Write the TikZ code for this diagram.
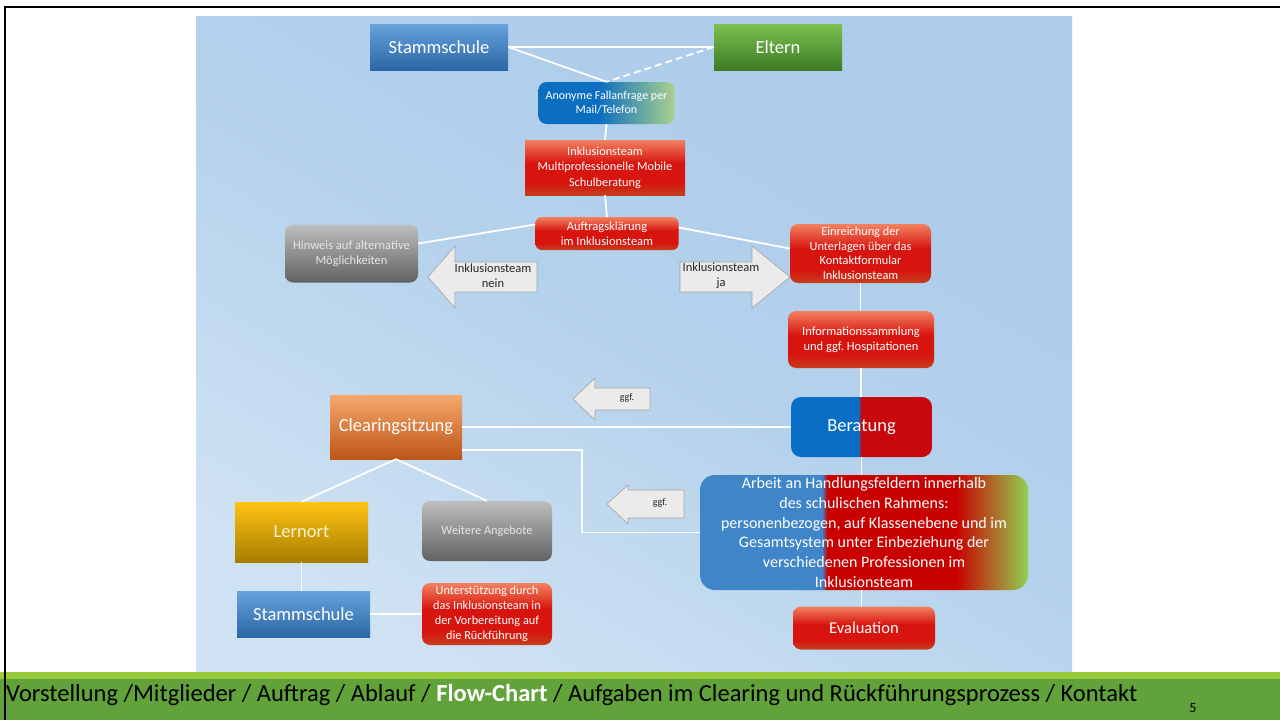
\documentclass[tikz,border=0pt]{standalone}
\usepackage{fontspec}
\setmainfont{Carlito}
\definecolor{bgA}{HTML}{ACCCEA}
\definecolor{bgB}{HTML}{CFE2F3}
\definecolor{stTop}{HTML}{66A3DB}
\definecolor{stBot}{HTML}{2B66A6}
\definecolor{elTop}{HTML}{7DBF4F}
\definecolor{elBot}{HTML}{3D7C24}
\definecolor{rdTop}{HTML}{F2825F}
\definecolor{rdRed}{HTML}{D8140F}
\definecolor{rdBot}{HTML}{C4401C}
\definecolor{gyTop}{HTML}{BEBEBE}
\definecolor{gyMid}{HTML}{979797}
\definecolor{gyBot}{HTML}{616161}
\definecolor{gyTxt}{HTML}{E6E6E6}
\definecolor{clTop}{HTML}{F5A86C}
\definecolor{clBot}{HTML}{BE5518}
\definecolor{lnTop}{HTML}{FFC312}
\definecolor{lnMid}{HTML}{E3A800}
\definecolor{lnBot}{HTML}{A67E00}
\definecolor{lnTxt}{HTML}{FFF3CF}
\definecolor{anBlue}{HTML}{0C6EC1}
\definecolor{anGreen}{HTML}{A9D18E}
\definecolor{beBlue}{HTML}{0A6FC4}
\definecolor{beRed}{HTML}{C8080C}
\definecolor{arBlue}{HTML}{3F85C8}
\definecolor{arRed}{HTML}{C80000}
\definecolor{arGreen}{HTML}{92D050}
\definecolor{arrFill}{HTML}{EBEBEB}
\definecolor{arrLine}{HTML}{A3A3A3}
\definecolor{arrTxt}{HTML}{262626}
\definecolor{ftLight}{HTML}{9ACB3A}
\definecolor{ftDark}{HTML}{62A23A}
\pgfdeclarehorizontalshading{anshade}{100bp}{color(0bp)=(anBlue); color(47bp)=(anBlue); color(75bp)=(anGreen); color(100bp)=(anGreen)}
\pgfdeclarehorizontalshading{beshade}{100bp}{color(0bp)=(beBlue); color(49bp)=(beBlue); color(49.8bp)=(beRed); color(100bp)=(beRed)}
\pgfdeclarehorizontalshading{arshade}{100bp}{color(0bp)=(arBlue); color(43.6bp)=(arBlue); color(44.4bp)=(arRed); color(64bp)=(arRed); color(75bp)=(arGreen); color(100bp)=(arGreen)}
\pgfdeclareverticalshading{rdshade}{100bp}{color(0bp)=(rdBot); color(25bp)=(rdBot); color(36bp)=(rdRed); color(54bp)=(rdRed); color(75bp)=(rdTop); color(100bp)=(rdTop)}
\begin{document}
\begin{tikzpicture}[x=1pt,y=-1pt,
  bx/.style={draw=none, inner sep=1pt, align=center, text=white},
  small/.style={font=\fontsize{12.5}{14.8}\selectfont},
  big/.style={font=\fontsize{18.5}{22}\selectfont},
  blueb/.style={bx, big, top color=stTop, bottom color=stBot},
  greenb/.style={bx, big, top color=elTop, bottom color=elBot},
  redb/.style={bx, small, shading=rdshade},
  grayb/.style={bx, small, rounded corners=8pt, text=gyTxt, top color=gyTop, middle color=gyMid, bottom color=gyBot},
  conn/.style={draw=white, line width=1.8pt},
  arrowbox/.style={fill=arrFill, draw=arrLine, line width=0.6pt, line join=miter},
  arrtext/.style={align=center, text=arrTxt, font=\fontsize{12.5}{15}\selectfont}
]
\useasboundingbox (0,0) rectangle (1280,720);
\fill[white] (0,0) rectangle (1280,720);
% panel
\shade[top color=bgA, bottom color=bgB, middle color=bgA!75!bgB, shading angle=-30] (196,16) rectangle (1072,672);
% footer
\fill[ftLight] (0,672) rectangle (1280,679);
\fill[ftDark] (0,679) rectangle (1280,720);
\draw[black, line width=2pt] (4,7) -- (1280,7);
\draw[black, line width=2pt] (5,6) -- (5,720);
\node[anchor=base west, font=\fontsize{24.5}{28}\selectfont, text=black, inner sep=0pt] (foot) at (6,701)
  {Vorstellung /Mitglieder / Auftrag / Ablauf / \textbf{\textcolor{white}{Flow-Chart}} / Aufgaben im Clearing und Rückführungsprozess / Kontakt};
\node[anchor=base, font=\fontsize{14}{16}\selectfont, text=black, inner sep=0pt] (pnum) at (1193,712) {5};

% nodes
\node[blueb, minimum width=138pt, minimum height=46pt] (stamm) at (439,47) {Stammschule};
\node[greenb, minimum width=128pt, minimum height=46pt] (eltern) at (778,47) {Eltern};
\node[bx, small, rounded corners=8pt, shading=anshade, minimum width=136pt, minimum height=42pt,
      font=\fontsize{12}{14}\selectfont] (anon) at (606.5,103) {Anonyme Fallanfrage per\\Mail/Telefon};
\node[redb, minimum width=160pt, minimum height=55pt, font=\fontsize{12.3}{15.5}\selectfont] (inkl) at (605,167.5) {Inklusionsteam\\Multiprofessionelle Mobile\\Schulberatung};
\node[redb, rounded corners=6pt, minimum width=143pt, minimum height=33pt] (auftrag) at (607,233.5) {Auftragsklärung\\im Inklusionsteam};
\node[grayb, minimum width=133pt, minimum height=58pt] (hinweis) at (351.5,253.5) {Hinweis auf alternative\\Möglichkeiten};
\node[redb, rounded corners=8pt, minimum width=141pt, minimum height=59pt, font=\fontsize{12.3}{14.5}\selectfont] (einr) at (860.5,253.5) {Einreichung der\\Unterlagen über das\\Kontaktformular\\Inklusionsteam};
\node[redb, rounded corners=8pt, minimum width=146pt, minimum height=57pt] (info) at (861,339.5) {Informationssammlung\\und ggf.\ Hospitationen};
\node[bx, big, rounded corners=10pt, shading=beshade, minimum width=141pt, minimum height=60pt] (berat) at (861.5,427) {Beratung};
\node[bx, big, top color=clTop, bottom color=clBot, minimum width=132pt, minimum height=64pt] (clear) at (396,427) {Clearingsitzung};
\node[bx, rounded corners=15pt, shading=arshade, minimum width=328pt, minimum height=115pt, font=\fontsize{16}{19.8}\selectfont] (arbeit) at (864,532.5)
  {Arbeit an Handlungsfeldern innerhalb\\des schulischen Rahmens:\\personenbezogen, auf Klassenebene und im\\Gesamtsystem unter Einbeziehung der\\verschiedenen Professionen im\\Inklusionsteam};
\node[redb, rounded corners=8pt, minimum width=142pt, minimum height=43pt, font=\fontsize{16.5}{20}\selectfont] (eval) at (864,628) {Evaluation};
\node[bx, big, text=lnTxt, top color=lnTop, middle color=lnMid, bottom color=lnBot, minimum width=133pt, minimum height=60pt] (lernort) at (301.5,532) {Lernort};
\node[grayb, minimum width=130pt, minimum height=60pt, font=\fontsize{12.3}{14}\selectfont] (weitere) at (487,531) {Weitere Angebote};
\node[blueb, minimum width=133pt, minimum height=46pt] (stamm2) at (303.5,614) {Stammschule};
\node[redb, rounded corners=8pt, minimum width=130pt, minimum height=62pt, font=\fontsize{12.3}{15}\selectfont] (unter) at (487,614) {Unterstützung durch\\das Inklusionsteam in\\der Vorbereitung auf\\die Rückführung};

% connectors
\draw[conn] (stamm.east) -- (eltern.west);
\draw[conn] (stamm.east) -- (anon.north);
\draw[conn, dashed, dash pattern=on 7pt off 4pt] (eltern.west) -- (anon.north);
\draw[conn] (anon.south) -- (inkl.north);
\draw[conn] (inkl.south) -- (auftrag.north);
\draw[conn] ([yshift=9pt]auftrag.west) -- ([yshift=10pt]hinweis.east);
\draw[conn] ([yshift=6pt]auftrag.east) -- ([yshift=5pt]einr.west);
\draw[conn] (einr.south) -- (einr.south |- info.north);
\draw[conn] (info.south) -- (info.south |- berat.north);
\draw[conn] (clear.east) -- (berat.west);
\draw[conn] (berat.south) -- (berat.south |- arbeit.north);
\draw[conn] (berat.south |- arbeit.south) -- (berat.south |- eval.north);
\draw[conn] ([yshift=-23pt]clear.east) -- ++(120,0) |- (arbeit.west);
\draw[conn] (clear.south) -- (lernort.north);
\draw[conn] (clear.south) -- (weitere.north);
\draw[conn] (lernort.south) -- (lernort.south |- stamm2.north);
\draw[conn] (stamm2.east) -- (unter.west);

% block arrows
\draw[arrowbox] (537,262) -- (455,262) -- (455,246) -- (428,277) -- (455,308) -- (455,292) -- (537,292) -- cycle;
\node[arrtext] (nein) at (493,276) {Inklusionsteam\\nein};
\draw[arrowbox] (680,262) -- (752,262) -- (752,246) -- (790,277) -- (752,308) -- (752,292) -- (680,292) -- cycle;
\node[arrtext] (ja) at (721,276) {Inklusionsteam\\ja};
\draw[arrowbox] (650,388) -- (595,388) -- (595,378) -- (573,399) -- (595,420) -- (595,410) -- (650,410) -- cycle;
\node[arrtext, font=\fontsize{10}{12}\selectfont] (ggf1) at (627,398) {ggf.};
\draw[arrowbox] (684,490) -- (628,490) -- (628,485) -- (607,504) -- (628,524) -- (628,518) -- (684,518) -- cycle;
\node[arrtext, font=\fontsize{10}{12}\selectfont] (ggf2) at (660,503) {ggf.};
\end{tikzpicture}
\end{document}
